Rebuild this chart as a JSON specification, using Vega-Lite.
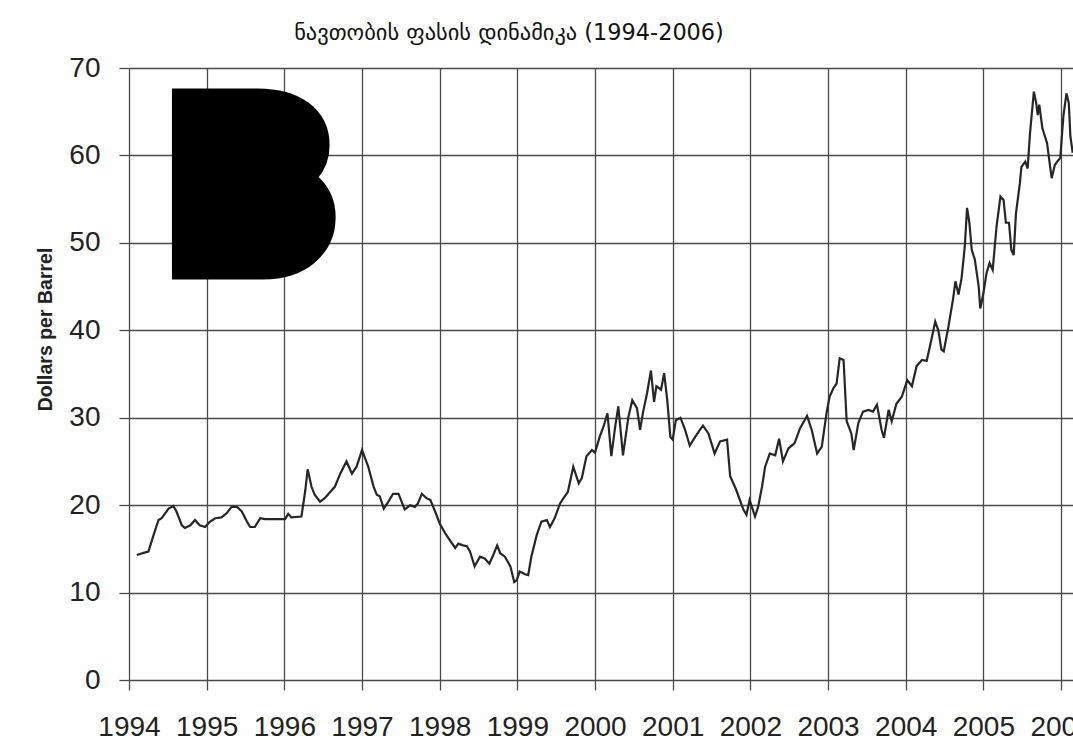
{
  "$schema": "https://vega.github.io/schema/vega-lite/v6.json",
  "autosize": {"type": "none"},
  "padding": {"left": 129, "top": 68, "right": 0, "bottom": 65},
  "width": 944,
  "height": 612,
  "background": "white",
  "title": {
    "text": "ნავთობის  ფასის  დინამიკა  (1994-2006)",
    "font": "DejaVu Sans",
    "fontSize": 22.4,
    "fontWeight": "normal",
    "color": "#111111",
    "anchor": "middle",
    "dx": -92,
    "offset": 10
  },
  "config": {
    "view": {"stroke": null},
    "axis": {
      "domain": false,
      "grid": true,
      "gridColor": "#4a4a4a",
      "gridWidth": 1.3,
      "gridOpacity": 1,
      "tickColor": "#4a4a4a",
      "tickWidth": 1.3,
      "tickSize": 10,
      "labelFont": "Liberation Sans",
      "labelFontSize": 28,
      "labelColor": "#222222",
      "labelOverlap": false,
      "labelFlush": false
    }
  },
  "layer": [
    {
      "data": {
        "values": [
          {"year": 1994.10, "price": 14.3}, {"year": 1994.21, "price": 14.6}, {"year": 1994.25, "price": 14.7},
          {"year": 1994.31, "price": 16.4}, {"year": 1994.38, "price": 18.3}, {"year": 1994.42, "price": 18.5},
          {"year": 1994.51, "price": 19.6}, {"year": 1994.57, "price": 19.9}, {"year": 1994.61, "price": 19.3},
          {"year": 1994.68, "price": 17.7}, {"year": 1994.72, "price": 17.4}, {"year": 1994.79, "price": 17.7},
          {"year": 1994.85, "price": 18.3}, {"year": 1994.91, "price": 17.7}, {"year": 1994.98, "price": 17.5},
          {"year": 1995.04, "price": 18.1}, {"year": 1995.11, "price": 18.5}, {"year": 1995.19, "price": 18.6},
          {"year": 1995.26, "price": 19.1}, {"year": 1995.32, "price": 19.8}, {"year": 1995.39, "price": 19.8},
          {"year": 1995.45, "price": 19.3}, {"year": 1995.52, "price": 18.1}, {"year": 1995.56, "price": 17.5},
          {"year": 1995.62, "price": 17.5}, {"year": 1995.69, "price": 18.5}, {"year": 1995.75, "price": 18.4},
          {"year": 1995.88, "price": 18.4}, {"year": 1996.01, "price": 18.4}, {"year": 1996.05, "price": 19.0},
          {"year": 1996.09, "price": 18.6}, {"year": 1996.22, "price": 18.7}, {"year": 1996.27, "price": 21.7},
          {"year": 1996.30, "price": 24.1}, {"year": 1996.35, "price": 22.1}, {"year": 1996.39, "price": 21.2},
          {"year": 1996.46, "price": 20.4}, {"year": 1996.52, "price": 20.8}, {"year": 1996.59, "price": 21.5},
          {"year": 1996.65, "price": 22.1}, {"year": 1996.72, "price": 23.6}, {"year": 1996.80, "price": 25.0},
          {"year": 1996.87, "price": 23.6}, {"year": 1996.93, "price": 24.4}, {"year": 1997.00, "price": 26.3},
          {"year": 1997.08, "price": 24.4}, {"year": 1997.15, "price": 22.1}, {"year": 1997.19, "price": 21.2},
          {"year": 1997.23, "price": 21.0}, {"year": 1997.28, "price": 19.6}, {"year": 1997.34, "price": 20.4},
          {"year": 1997.40, "price": 21.3}, {"year": 1997.47, "price": 21.3}, {"year": 1997.51, "price": 20.4},
          {"year": 1997.55, "price": 19.5}, {"year": 1997.62, "price": 20.0}, {"year": 1997.68, "price": 19.8},
          {"year": 1997.72, "price": 20.2}, {"year": 1997.77, "price": 21.3}, {"year": 1997.83, "price": 20.8},
          {"year": 1997.88, "price": 20.6}, {"year": 1997.94, "price": 19.3}, {"year": 1998.00, "price": 17.9},
          {"year": 1998.07, "price": 16.8}, {"year": 1998.13, "price": 16.0}, {"year": 1998.20, "price": 15.1},
          {"year": 1998.24, "price": 15.6}, {"year": 1998.30, "price": 15.4}, {"year": 1998.35, "price": 15.3},
          {"year": 1998.39, "price": 14.7}, {"year": 1998.45, "price": 13.0}, {"year": 1998.52, "price": 14.1},
          {"year": 1998.58, "price": 13.9}, {"year": 1998.64, "price": 13.3}, {"year": 1998.69, "price": 14.3},
          {"year": 1998.74, "price": 15.4}, {"year": 1998.78, "price": 14.5}, {"year": 1998.84, "price": 14.1},
          {"year": 1998.91, "price": 13.0}, {"year": 1998.96, "price": 11.2}, {"year": 1998.99, "price": 11.4},
          {"year": 1999.03, "price": 12.4}, {"year": 1999.10, "price": 12.1}, {"year": 1999.14, "price": 12.0},
          {"year": 1999.18, "price": 14.1}, {"year": 1999.25, "price": 16.6}, {"year": 1999.31, "price": 18.1},
          {"year": 1999.38, "price": 18.3}, {"year": 1999.42, "price": 17.5}, {"year": 1999.48, "price": 18.5},
          {"year": 1999.55, "price": 20.2}, {"year": 1999.61, "price": 21.0}, {"year": 1999.65, "price": 21.5},
          {"year": 1999.72, "price": 24.4}, {"year": 1999.79, "price": 22.5}, {"year": 1999.83, "price": 23.1},
          {"year": 1999.89, "price": 25.6}, {"year": 1999.96, "price": 26.3}, {"year": 2000.00, "price": 26.0},
          {"year": 2000.06, "price": 27.8}, {"year": 2000.11, "price": 29.0}, {"year": 2000.16, "price": 30.5},
          {"year": 2000.21, "price": 25.6}, {"year": 2000.26, "price": 29.0}, {"year": 2000.30, "price": 31.3},
          {"year": 2000.36, "price": 25.7}, {"year": 2000.43, "price": 30.1}, {"year": 2000.48, "price": 32.0},
          {"year": 2000.54, "price": 31.1}, {"year": 2000.58, "price": 28.6}, {"year": 2000.62, "price": 30.7},
          {"year": 2000.67, "price": 32.8}, {"year": 2000.72, "price": 35.4}, {"year": 2000.76, "price": 31.8},
          {"year": 2000.79, "price": 33.6}, {"year": 2000.85, "price": 33.2}, {"year": 2000.89, "price": 35.1},
          {"year": 2000.93, "price": 32.0}, {"year": 2000.97, "price": 27.8}, {"year": 2001.00, "price": 27.5},
          {"year": 2001.04, "price": 29.7}, {"year": 2001.10, "price": 30.0}, {"year": 2001.16, "price": 28.6},
          {"year": 2001.22, "price": 26.8}, {"year": 2001.29, "price": 27.8}, {"year": 2001.35, "price": 28.6},
          {"year": 2001.39, "price": 29.1}, {"year": 2001.46, "price": 28.2}, {"year": 2001.54, "price": 25.9},
          {"year": 2001.61, "price": 27.3}, {"year": 2001.70, "price": 27.5}, {"year": 2001.74, "price": 23.3},
          {"year": 2001.82, "price": 21.7}, {"year": 2001.91, "price": 19.5}, {"year": 2001.95, "price": 18.9},
          {"year": 2001.99, "price": 20.6}, {"year": 2002.06, "price": 18.7}, {"year": 2002.10, "price": 19.8},
          {"year": 2002.15, "price": 22.1}, {"year": 2002.19, "price": 24.4}, {"year": 2002.25, "price": 25.9},
          {"year": 2002.32, "price": 25.7}, {"year": 2002.37, "price": 27.6}, {"year": 2002.42, "price": 25.0},
          {"year": 2002.49, "price": 26.5}, {"year": 2002.57, "price": 27.1}, {"year": 2002.64, "price": 28.8},
          {"year": 2002.73, "price": 30.2}, {"year": 2002.79, "price": 28.6}, {"year": 2002.86, "price": 25.9},
          {"year": 2002.92, "price": 26.7}, {"year": 2002.98, "price": 30.5}, {"year": 2003.02, "price": 32.4},
          {"year": 2003.07, "price": 33.4}, {"year": 2003.11, "price": 33.9}, {"year": 2003.15, "price": 36.8},
          {"year": 2003.20, "price": 36.6}, {"year": 2003.24, "price": 29.6}, {"year": 2003.30, "price": 28.2},
          {"year": 2003.33, "price": 26.3}, {"year": 2003.39, "price": 29.4}, {"year": 2003.45, "price": 30.7},
          {"year": 2003.52, "price": 30.9}, {"year": 2003.58, "price": 30.7}, {"year": 2003.63, "price": 31.5},
          {"year": 2003.69, "price": 28.6}, {"year": 2003.72, "price": 27.7}, {"year": 2003.78, "price": 30.9},
          {"year": 2003.82, "price": 29.6}, {"year": 2003.88, "price": 31.6}, {"year": 2003.95, "price": 32.4},
          {"year": 2004.02, "price": 34.3}, {"year": 2004.08, "price": 33.6}, {"year": 2004.14, "price": 35.9},
          {"year": 2004.21, "price": 36.6}, {"year": 2004.27, "price": 36.5}, {"year": 2004.33, "price": 38.9},
          {"year": 2004.38, "price": 41.0}, {"year": 2004.42, "price": 40.0}, {"year": 2004.46, "price": 37.8},
          {"year": 2004.49, "price": 37.6}, {"year": 2004.55, "price": 40.4}, {"year": 2004.61, "price": 43.6},
          {"year": 2004.64, "price": 45.6}, {"year": 2004.68, "price": 44.1}, {"year": 2004.72, "price": 46.0},
          {"year": 2004.76, "price": 49.5}, {"year": 2004.79, "price": 54.0}, {"year": 2004.82, "price": 52.3},
          {"year": 2004.85, "price": 49.2}, {"year": 2004.89, "price": 48.1}, {"year": 2004.94, "price": 45.0},
          {"year": 2004.96, "price": 42.5}, {"year": 2005.00, "price": 44.2}, {"year": 2005.04, "price": 46.5},
          {"year": 2005.08, "price": 47.7}, {"year": 2005.12, "price": 46.9}, {"year": 2005.17, "price": 51.9},
          {"year": 2005.22, "price": 55.3}, {"year": 2005.26, "price": 54.9}, {"year": 2005.29, "price": 52.3},
          {"year": 2005.33, "price": 52.3}, {"year": 2005.36, "price": 49.2}, {"year": 2005.39, "price": 48.6},
          {"year": 2005.42, "price": 53.4}, {"year": 2005.47, "price": 56.8}, {"year": 2005.49, "price": 58.7},
          {"year": 2005.54, "price": 59.3}, {"year": 2005.57, "price": 58.5}, {"year": 2005.60, "price": 62.5},
          {"year": 2005.65, "price": 67.3}, {"year": 2005.68, "price": 66.0}, {"year": 2005.70, "price": 64.6},
          {"year": 2005.72, "price": 65.8}, {"year": 2005.76, "price": 63.1}, {"year": 2005.82, "price": 61.4},
          {"year": 2005.86, "price": 58.7}, {"year": 2005.88, "price": 57.4}, {"year": 2005.92, "price": 58.9},
          {"year": 2005.95, "price": 59.3}, {"year": 2005.99, "price": 59.7}, {"year": 2006.03, "price": 64.5},
          {"year": 2006.07, "price": 67.1}, {"year": 2006.10, "price": 66.0}, {"year": 2006.12, "price": 62.2},
          {"year": 2006.15, "price": 60.3}
        ]
      },
      "mark": {"type": "line", "color": "#262626", "strokeWidth": 2.2},
      "encoding": {
        "x": {
          "field": "year",
          "type": "quantitative",
          "scale": {"domain": [1994, 2006.154], "nice": false, "zero": false},
          "axis": {
            "values": [1994, 1995, 1996, 1997, 1998, 1999, 2000, 2001, 2002, 2003, 2004, 2005, 2006],
            "format": "d",
            "title": null,
            "labelPadding": 23
          }
        },
        "y": {
          "field": "price",
          "type": "quantitative",
          "scale": {"domain": [0, 70], "nice": false},
          "axis": {
            "values": [0, 10, 20, 30, 40, 50, 60, 70],
            "title": "Dollars per Barrel",
            "titleFont": "Liberation Sans",
            "titleFontWeight": "bold",
            "titleFontSize": 19.5,
            "titleColor": "#222222",
            "titleX": -84,
            "titleY": 261,
            "titleAngle": -90,
            "titleAlign": "center",
            "titleBaseline": "middle",
            "labelPadding": 19
          }
        }
      }
    },
    {
      "data": {"values": [{"label": "B"}]},
      "mark": {
        "type": "text",
        "font": "Inter",
        "fontWeight": 900,
        "fontSize": 212,
        "color": "#000000",
        "stroke": "#000000",
        "strokeWidth": 37,
        "strokeJoin": "miter",
        "align": "center",
        "baseline": "alphabetic"
      },
      "encoding": {
        "x": {"datum": 1995.575, "type": "quantitative"},
        "y": {"datum": 47.9, "type": "quantitative"},
        "text": {"field": "label"}
      }
    }
  ]
}
